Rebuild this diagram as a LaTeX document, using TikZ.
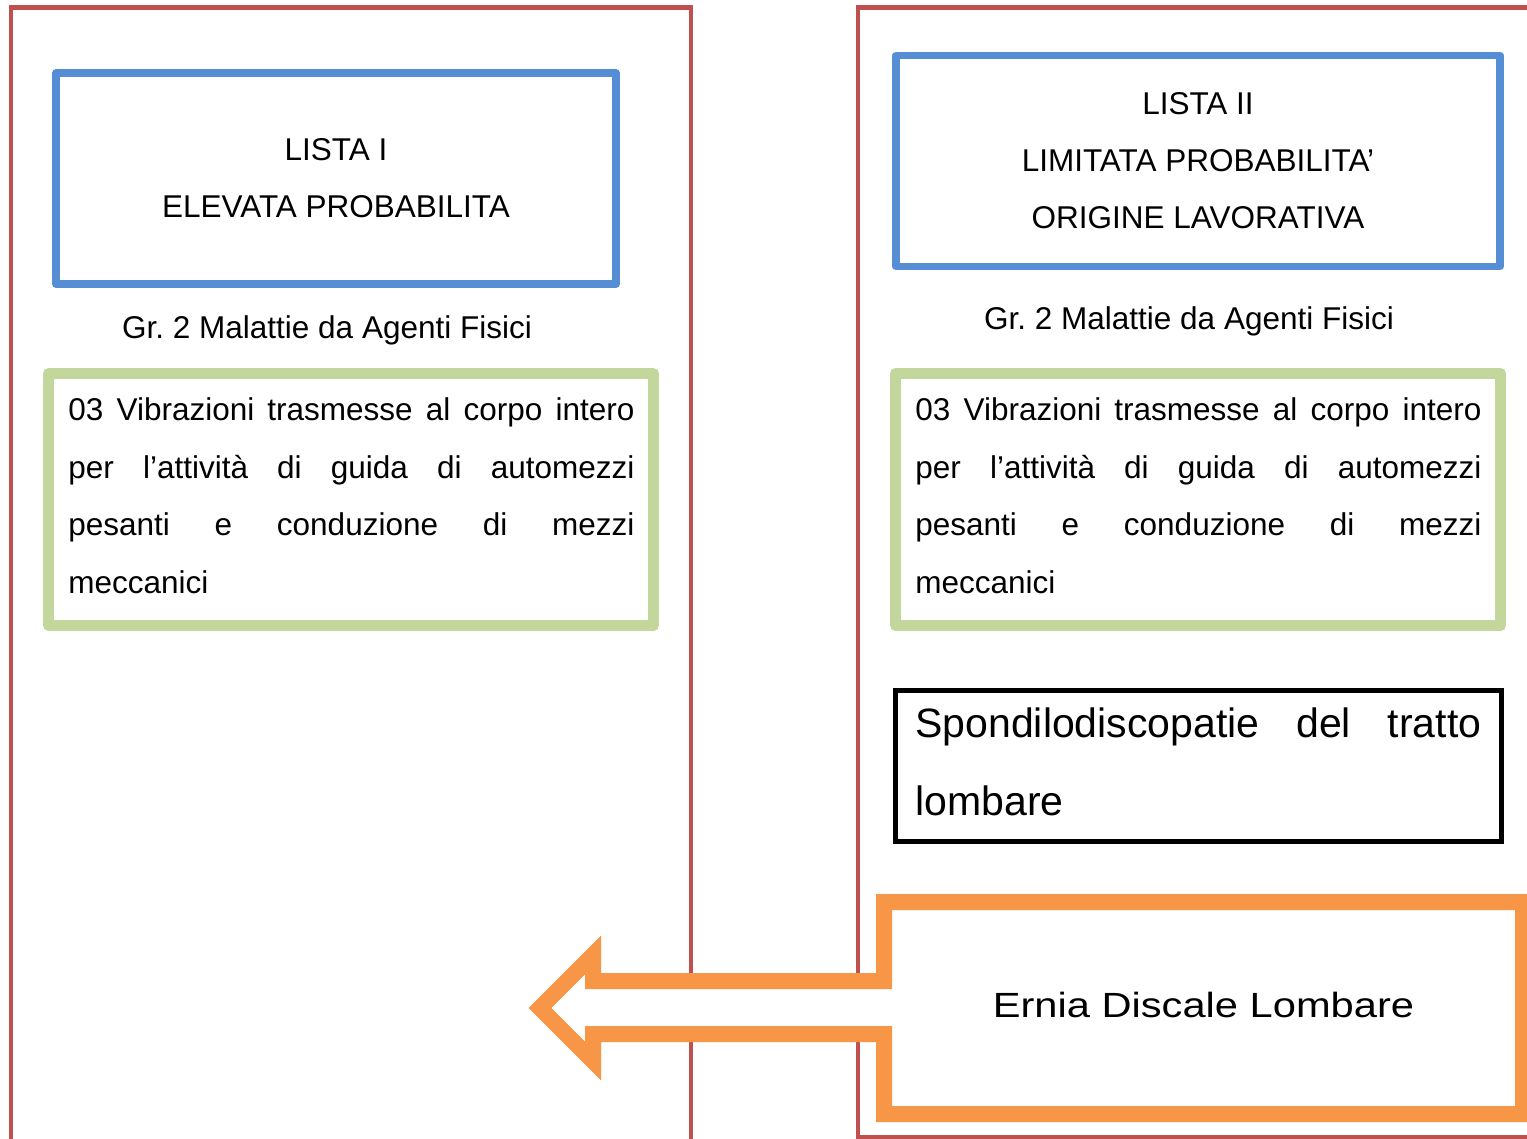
\documentclass[tikz,border=0pt]{standalone}
\usepackage{fontspec}
\setmainfont{Liberation Sans}
\newfontfamily\widefont[FakeStretch=1.19]{Liberation Sans}
\definecolor{framered}{HTML}{C0504D}
\definecolor{boxblue}{HTML}{558ED5}
\definecolor{boxgreen}{HTML}{C3D69B}
\definecolor{calloutorange}{HTML}{F79646}
\frenchspacing
\begin{document}
\begin{tikzpicture}[x=0.5pt,y=-0.5pt,
  frame/.style={draw=framered,line width=2.25pt},
  bluebox/.style={draw=boxblue,line width=3.75pt,line join=round,inner sep=0pt,align=center,
    font=\fontsize{15.75}{28.5}\selectfont},
  greenbox/.style={draw=boxgreen,line width=5.5pt,line join=round,inner sep=0pt},
  blackbox/.style={draw=black,line width=2.25pt,inner sep=0pt},
  txt/.style={inner sep=0pt,font=\fontsize{15.75}{18}\selectfont},
  bigtxt/.style={inner sep=0pt,font=\fontsize{20.5}{24}\selectfont},
  jline/.style={txt,anchor=base west},
  bigjline/.style={bigtxt,anchor=base west},
]
\useasboundingbox (0,0) rectangle (1527,1139);
\clip (0,0) rectangle (1527,1139);
\fill[white] (0,0) rectangle (1527,1139);

% red frames
\draw[frame] (11,1150) -- (11,7.5) -- (691,7.5) -- (691,1150);
\draw[frame] (1540,1137) -- (858,1137) -- (858,7.5) -- (1540,7.5);

% blue title boxes
\node[bluebox,minimum width=280pt,minimum height=105.5pt] (lista1) at (336,178.5)
  {LISTA I\\ELEVATA PROBABILITA};
\node[bluebox,minimum width=302pt,minimum height=105.5pt] (lista2) at (1198,161)
  {LISTA II\\LIMITATA PROBABILITA’\\ORIGINE LAVORATIVA};

% group labels
\node[txt,anchor=base] (gr1) at (327,339) {Gr. 2 Malattie da Agenti Fisici};
\node[txt,anchor=base] (gr2) at (1189,330) {Gr. 2 Malattie da Agenti Fisici};

% green boxes
\node[greenbox,minimum width=302.5pt,minimum height=126pt] (vib1) at (351,499.5) {};
\node[greenbox,minimum width=302.5pt,minimum height=126pt] (vib2) at (1198,499.5) {};

\node[jline] (v1a) at (68,421) {\makebox[283pt][s]{03 Vibrazioni trasmesse al corpo intero}};
\node[jline] (v1b) at (68,478) {\makebox[283pt][s]{per l’attività di guida di automezzi}};
\node[jline] (v1c) at (68,535.5) {\makebox[283pt][s]{pesanti e conduzione di mezzi}};
\node[jline] (v1d) at (68,593) {meccanici};

\node[jline] (v2a) at (915,421) {\makebox[283pt][s]{03 Vibrazioni trasmesse al corpo intero}};
\node[jline] (v2b) at (915,478) {\makebox[283pt][s]{per l’attività di guida di automezzi}};
\node[jline] (v2c) at (915,535.5) {\makebox[283pt][s]{pesanti e conduzione di mezzi}};
\node[jline] (v2d) at (915,593) {meccanici};

% black box
\node[blackbox,minimum width=303pt,minimum height=75.5pt] (spond) at (1198.5,766) {};
\node[bigjline] (s1) at (915,737) {\makebox[283pt][s]{Spondilodiscopatie del tratto}};
\node[bigjline] (s2) at (915,815) {lombare};

% orange left-arrow callout
\draw[calloutorange,line width=8pt,fill=white]
  (884,902) -- (1523,902) -- (1523,1114) -- (884,1114) -- (884,1034)
  -- (593,1034) -- (593,1061) -- (540,1008) -- (593,955) -- (593,981)
  -- (884,981) -- cycle;
\node[inner sep=0pt,anchor=base,font=\widefont\fontsize{17.5}{20}\selectfont] (ernia)
  at (1203.5,1017) {Ernia Discale Lombare};
\end{tikzpicture}
\end{document}
